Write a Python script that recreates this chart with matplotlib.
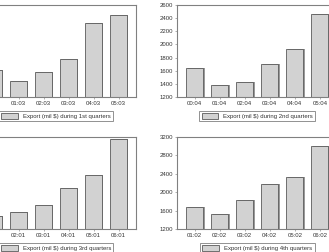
import matplotlib
matplotlib.use('Agg')
import matplotlib.pyplot as plt
import numpy as np

# Export (mil $) by quarter
q1_labels = ['00:03', '01:03', '02:03', '03:03', '04:03', '05:03']
q1_values = [1611, 1443, 1580, 1774, 2322, 2443]

q2_labels = ['00:04', '01:04', '02:04', '03:04', '04:04', '05:04']
q2_values = [1638, 1383, 1429, 1699, 1928, 2467]

q3_labels = ['01:01', '02:01', '03:01', '04:01', '05:01', '06:01']
q3_values = [1488, 1575, 1720, 2094, 2370, 3150]

q4_labels = ['01:02', '02:02', '03:02', '04:02', '05:02', '06:02']
q4_values = [1678, 1533, 1824, 2172, 2330, 2998]

plt.rcParams['font.family'] = ['Liberation Sans', 'DejaVu Sans']

W, H = 329, 252
fig = plt.figure(figsize=(W / 100, H / 100), dpi=100)


def panel(left_px, top_px, labels, values, ylim, step, name):
    ax = fig.add_axes([left_px / W, (H - top_px - 92) / H, 160 / W, 92 / H])
    x = np.arange(len(values))
    # flat drop shadow on the right of each bar
    ax.bar(x + 0.05, np.array(values) - ylim[0], 0.68, bottom=ylim[0],
           color='#9a9a9a', linewidth=0, zorder=1)
    ax.bar(x, np.array(values) - ylim[0], 0.68, bottom=ylim[0],
           color='#d2d2d2', edgecolor='#5a5a5a', linewidth=0.6, zorder=2,
           label='Export (mil $) during %s quarters' % name)
    ax.set_xlim(-0.7, 5.7)
    ax.set_ylim(*ylim)
    ax.set_yticks(np.arange(ylim[0], ylim[1] + 1, step))
    ax.set_xticks(x)
    ax.set_xticklabels(labels)
    for s in ax.spines.values():
        s.set_color('#808080')
        s.set_linewidth(0.8)
    ax.tick_params(direction='out', length=1.5, width=0.5, colors='#909090',
                   labelsize=4.3, labelcolor='#333333', pad=1.5)
    leg = ax.legend(loc='upper center', bbox_to_anchor=(0.5, -0.15),
                    fancybox=False, framealpha=1, edgecolor='#808080',
                    fontsize=4.3, handlelength=2.8, handleheight=1.0,
                    borderpad=0.4, handletextpad=0.8, borderaxespad=0)
    leg.get_frame().set_linewidth(0.6)
    for t in leg.get_texts():
        t.set_color('#333333')
    return ax


panel(-24, 5, q1_labels, q1_values, (1200, 2600), 200, '1st')
panel(177.3, 5, q2_labels, q2_values, (1200, 2600), 200, '2nd')
panel(-24, 137, q3_labels, q3_values, (1200, 3200), 400, '3rd')
panel(177.3, 137, q4_labels, q4_values, (1200, 3200), 400, '4th')

fig.savefig('out.png', dpi=100)
